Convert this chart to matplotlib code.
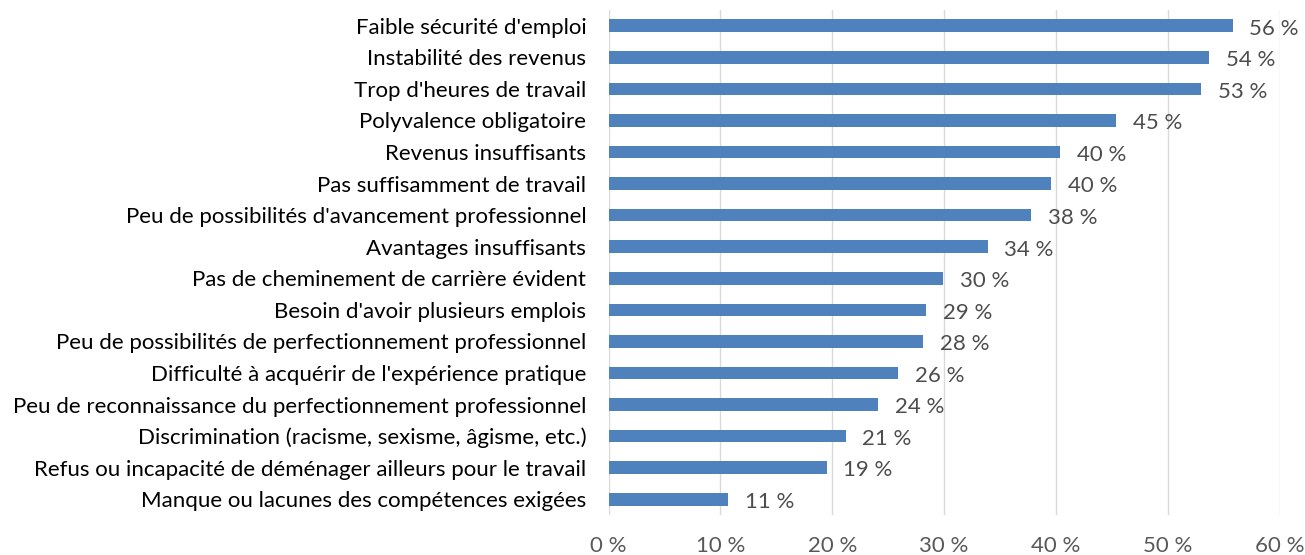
import matplotlib.pyplot as plt

plt.rcParams['font.family'] = ['Lato', 'DejaVu Sans']

# categories, top to bottom as in the picture
categories = [
    "Faible sécurité d'emploi",
    "Instabilité des revenus",
    "Trop d'heures de travail",
    "Polyvalence obligatoire",
    "Revenus insuffisants",
    "Pas suffisamment de travail",
    "Peu de possibilités d'avancement professionnel",
    "Avantages insuffisants",
    "Pas de cheminement de carrière évident",
    "Besoin d'avoir plusieurs emplois",
    "Peu de possibilités de perfectionnement professionnel",
    "Difficulté à acquérir de l'expérience pratique",
    "Peu de reconnaissance du perfectionnement professionnel",
    "Discrimination (racisme, sexisme, âgisme, etc.)",
    "Refus ou incapacité de déménager ailleurs pour le travail",
    "Manque ou lacunes des compétences exigées",
]
values = [55.8, 53.7, 53.0, 45.4, 40.4, 39.6, 37.8, 33.9, 29.9, 28.4, 28.1, 25.9, 24.1, 21.2, 19.5, 10.7]
value_labels = ["56 %", "54 %", "53 %", "45 %", "40 %", "40 %", "38 %", "34 %",
                "30 %", "29 %", "28 %", "26 %", "24 %", "21 %", "19 %", "11 %"]
xticks = [0, 10, 20, 30, 40, 50, 60]
xtick_labels = ["0 %", "10 %", "20 %", "30 %", "40 %", "50 %", "60 %"]

fig = plt.figure(figsize=(13.05, 5.55), dpi=100)
ax = fig.add_axes([0.4663, 0.072, 0.5143, 0.910])

pos = list(range(len(categories)))
bars = ax.barh(pos, values, height=0.4, color="#4F81BD", zorder=3)
ax.set_ylim(len(categories) - 0.5, -0.5)
ax.set_xlim(0, 60)

fs = 16
ax.set_yticks(pos)
ax.set_yticklabels(categories, fontsize=fs, color="#000000")
ax.set_xticks(xticks)
ax.set_xticklabels(xtick_labels, fontsize=fs, color="#595959")
ax.tick_params(axis="y", length=0, pad=16)
ax.tick_params(axis="x", length=0, pad=15)

ax.grid(axis="x", color="#D9D9D9", linewidth=1.0, zorder=0)
for s in ax.spines.values():
    s.set_visible(False)

for b, lab in zip(bars, value_labels):
    ax.annotate(lab, (b.get_width(), b.get_y() + b.get_height() / 2),
                xytext=(12, -2), textcoords="offset points",
                va="center", ha="left", fontsize=fs, color="#4D4D4D")

fig.savefig("out.png", dpi=100)
